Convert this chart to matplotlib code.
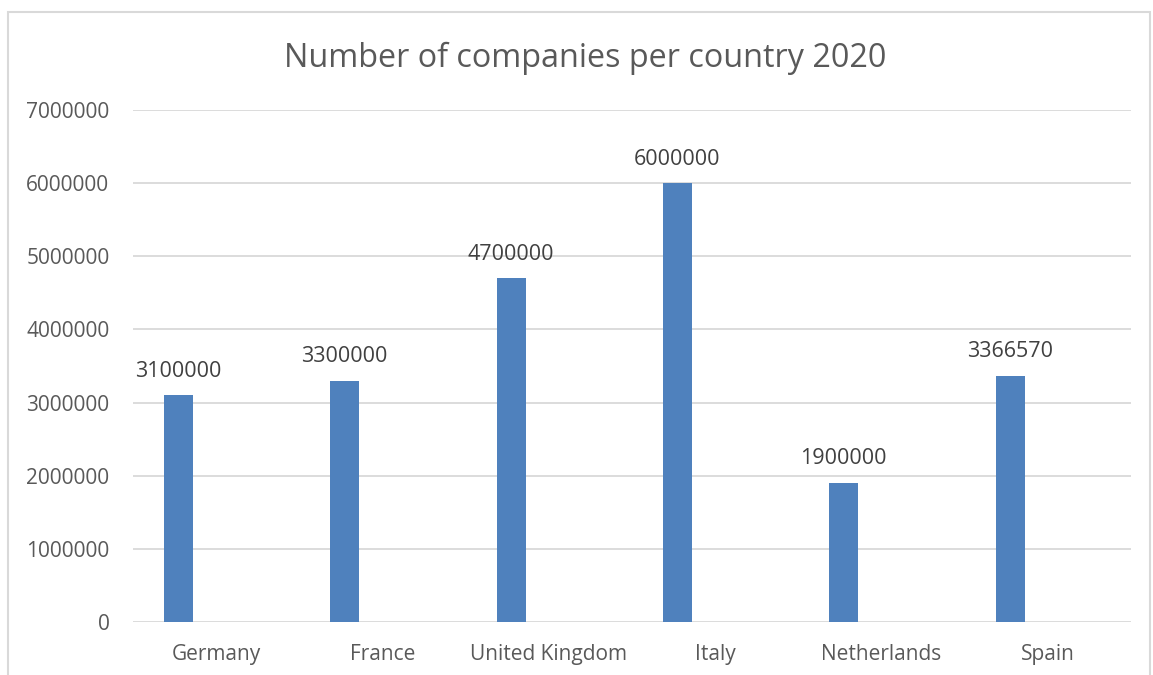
import matplotlib.pyplot as plt
from matplotlib.patches import Rectangle
import numpy as np

countries = ["Germany", "France", "United Kingdom", "Italy", "Netherlands", "Spain"]
companies = [3100000, 3300000, 4700000, 6000000, 1900000, 3366570]
yticks = [0, 1000000, 2000000, 3000000, 4000000, 5000000, 6000000, 7000000]

plt.rcParams['font.family'] = ['Open Sans', 'DejaVu Sans']
text_color = "#595959"
label_color = "#404040"
grid_color = "#D9D9D9"
bar_color = "#4F81BD"

fig = plt.figure(figsize=(11.53, 6.75), dpi=100)
# light chart border like the Excel chart area
fig.patches.append(Rectangle((8 / 1153, -0.05), 1142 / 1153, 1 - 12 / 675 + 0.05,
                             transform=fig.transFigure, fill=False,
                             edgecolor=grid_color, linewidth=1.5))

ax = fig.add_axes([133 / 1153, 1 - 622 / 675, 998 / 1153, 512 / 675])
x = np.arange(len(countries))
bars = ax.bar(x - 0.227, companies, width=0.175, color=bar_color, zorder=3)

for b, v in zip(bars, companies):
    ax.text(b.get_x() + b.get_width() / 2, v + 185000, str(v), ha="center", va="bottom",
            fontsize=15.5, color=label_color)

ax.set_xlim(-0.5, len(countries) - 0.5)
ax.set_ylim(0, 7000000)
ax.set_yticks(yticks)
ax.set_yticklabels([str(t) for t in yticks])
ax.set_xticks(x)
ax.set_xticklabels(countries)
ax.tick_params(axis="both", length=0, labelsize=15, labelcolor=text_color)
ax.tick_params(axis="y", pad=17)
ax.tick_params(axis="x", pad=16)
ax.grid(axis="y", color=grid_color, linewidth=1.3, zorder=0)
for s in ax.spines.values():
    s.set_visible(False)

fig.text(585 / 1153, 1 - 58 / 675, "Number of companies per country 2020", ha="center", va="center",
         fontsize=23.3, color=text_color)

fig.savefig("out.png", dpi=100)
